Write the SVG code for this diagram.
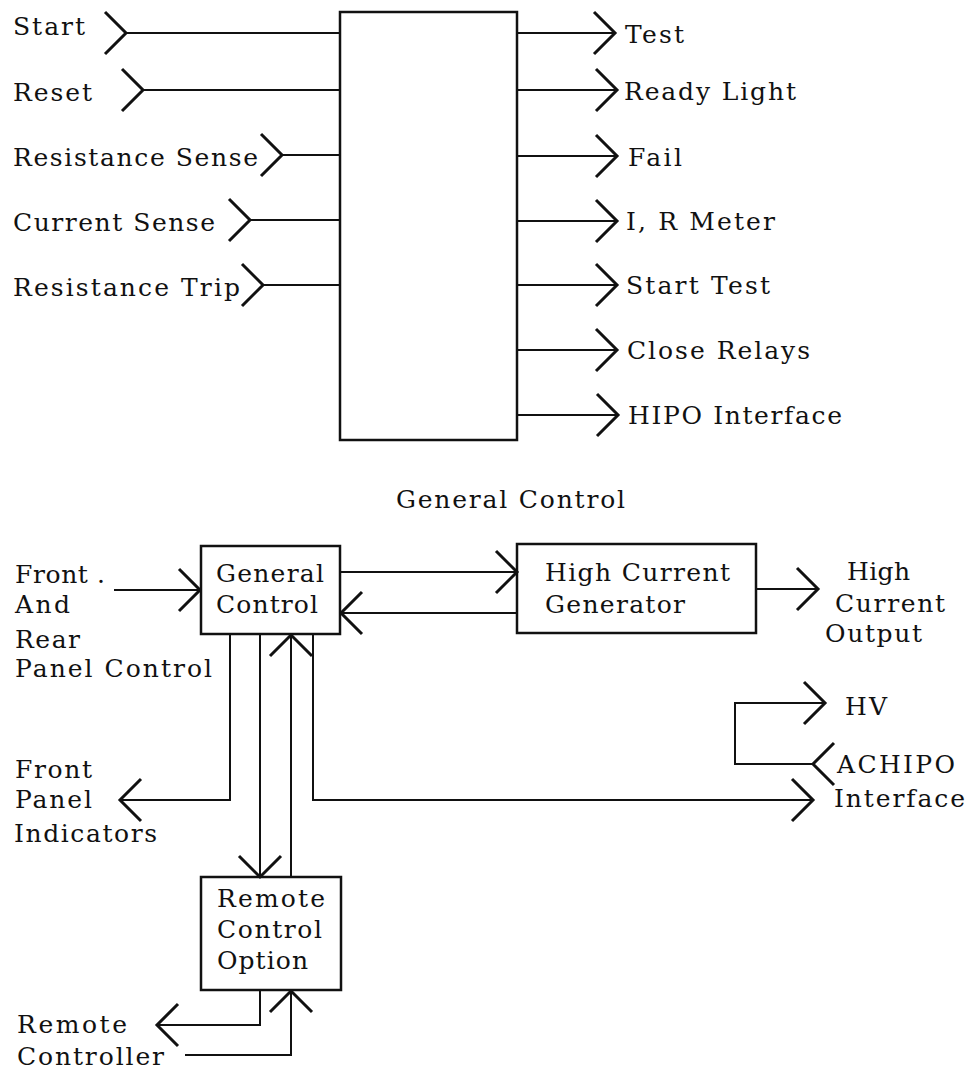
<svg xmlns="http://www.w3.org/2000/svg" width="971" height="1069" viewBox="0 0 971 1069">
<defs>
<style>
text{font-family:"DejaVu Serif","Liberation Serif",serif;font-size:25px;fill:#111;}
.box{fill:none;stroke:#111;stroke-width:2.5;}
.ln{fill:none;stroke:#111;stroke-width:2;}
</style>
<marker id="chev" viewBox="-25 -25 30 50" markerUnits="userSpaceOnUse" markerWidth="30" markerHeight="50" refX="0" refY="0" orient="auto" overflow="visible">
<path d="M-21,-21 L0,0 L-21,21" fill="none" stroke="#111" stroke-width="3"/>
</marker>
</defs>
<rect width="971" height="1069" fill="#fff"/>

<g id="general-control-top">
<rect class="box" x="340" y="12" width="177" height="428"/>
</g>
<g id="inputs">
<text x="13" y="35" textLength="72" lengthAdjust="spacing">Start</text>
<text x="13" y="101" textLength="79" lengthAdjust="spacing">Reset</text>
<text x="13" y="166" textLength="245" lengthAdjust="spacing">Resistance Sense</text>
<text x="13" y="231" textLength="202" lengthAdjust="spacing">Current Sense</text>
<text x="13" y="296" textLength="227" lengthAdjust="spacing">Resistance Trip</text>
</g>
<g id="outputs">
<text x="625" y="43" textLength="59" lengthAdjust="spacing">Test</text>
<text x="624" y="100" textLength="172" lengthAdjust="spacing">Ready Light</text>
<text x="628" y="166" textLength="54" lengthAdjust="spacing">Fail</text>
<text x="626" y="230" textLength="149" lengthAdjust="spacing">I, R Meter</text>
<text x="626" y="294" textLength="144" lengthAdjust="spacing">Start Test</text>
<text x="627" y="359" textLength="183" lengthAdjust="spacing">Close Relays</text>
<text x="628" y="424" textLength="214" lengthAdjust="spacing">HIPO Interface</text>
</g>
<g id="caption">
<text x="396" y="508" textLength="229" lengthAdjust="spacing">General Control</text>
</g>

<g id="general-control">
<rect class="box" x="201" y="546" width="139" height="88"/>
<text x="216" y="582" textLength="108" lengthAdjust="spacing">General</text>
<text x="216" y="613" textLength="102" lengthAdjust="spacing">Control</text>
</g>
<g id="high-current-generator">
<rect class="box" x="517" y="544" width="239" height="89"/>
<text x="545" y="581" textLength="185" lengthAdjust="spacing">High Current</text>
<text x="545" y="613" textLength="140" lengthAdjust="spacing">Generator</text>
</g>
<g id="remote-control-option">
<rect class="box" x="201" y="877" width="140" height="113"/>
<text x="217" y="907" textLength="108" lengthAdjust="spacing">Remote</text>
<text x="217" y="938" textLength="105" lengthAdjust="spacing">Control</text>
<text x="217" y="969" textLength="91" lengthAdjust="spacing">Option</text>
</g>
<g id="front-rear-panel">
<text x="15" y="583" textLength="90" lengthAdjust="spacing">Front .</text>
<text x="15" y="613" textLength="55" lengthAdjust="spacing">And</text>
<text x="15" y="648" textLength="65" lengthAdjust="spacing">Rear</text>
<text x="15" y="677" textLength="197" lengthAdjust="spacing">Panel Control</text>
</g>
<g id="front-panel-indicators">
<text x="15" y="778" textLength="77" lengthAdjust="spacing">Front</text>
<text x="15" y="808" textLength="77" lengthAdjust="spacing">Panel</text>
<text x="14" y="842" textLength="143" lengthAdjust="spacing">Indicators</text>
</g>
<g id="high-current-output">
<text x="847" y="580" textLength="63" lengthAdjust="spacing">High</text>
<text x="835" y="612" textLength="110" lengthAdjust="spacing">Current</text>
<text x="825" y="642" textLength="97" lengthAdjust="spacing">Output</text>
</g>
<g id="hv">
<text x="845" y="715" textLength="42" lengthAdjust="spacing">HV</text>
</g>
<g id="achipo-interface">
<text x="837" y="773" textLength="118" lengthAdjust="spacing">ACHIPO</text>
<text x="834" y="807" textLength="131" lengthAdjust="spacing">Interface</text>
</g>
<g id="remote-controller">
<text x="17" y="1033" textLength="110" lengthAdjust="spacing">Remote</text>
<text x="17" y="1065" textLength="147" lengthAdjust="spacing">Controller</text>
</g>

<g id="connectors">
<path class="ln" d="M126,33 H340" marker-start="url(#chev)"/>
<path class="ln" d="M143,90 H340" marker-start="url(#chev)"/>
<path class="ln" d="M282,155 H340" marker-start="url(#chev)"/>
<path class="ln" d="M250,220 H340" marker-start="url(#chev)"/>
<path class="ln" d="M263,285 H340" marker-start="url(#chev)"/>

<path class="ln" d="M517,33 H615" marker-end="url(#chev)"/>
<path class="ln" d="M517,90 H617" marker-end="url(#chev)"/>
<path class="ln" d="M517,156 H617" marker-end="url(#chev)"/>
<path class="ln" d="M517,221 H617" marker-end="url(#chev)"/>
<path class="ln" d="M517,285 H617" marker-end="url(#chev)"/>
<path class="ln" d="M517,350 H617" marker-end="url(#chev)"/>
<path class="ln" d="M517,415 H618" marker-end="url(#chev)"/>

<path class="ln" d="M114,590 H200" marker-end="url(#chev)"/>
<path class="ln" d="M340,572 H517" marker-end="url(#chev)"/>
<path class="ln" d="M517,613 H341" marker-end="url(#chev)"/>
<path class="ln" d="M756,589 H818" marker-end="url(#chev)"/>
<path class="ln" d="M813,764 H735 V703 H825" marker-start="url(#chev)" marker-end="url(#chev)"/>
<path class="ln" d="M313,634 V800 H813" marker-end="url(#chev)"/>
<path class="ln" d="M230,634 V800 H120" marker-end="url(#chev)"/>
<path class="ln" d="M260,634 V877" marker-end="url(#chev)"/>
<path class="ln" d="M291,877 V635" marker-end="url(#chev)"/>
<path class="ln" d="M260,990 V1025 H157" marker-end="url(#chev)"/>
<path class="ln" d="M185,1055 H291 V991" marker-end="url(#chev)"/>
</g>
</svg>
